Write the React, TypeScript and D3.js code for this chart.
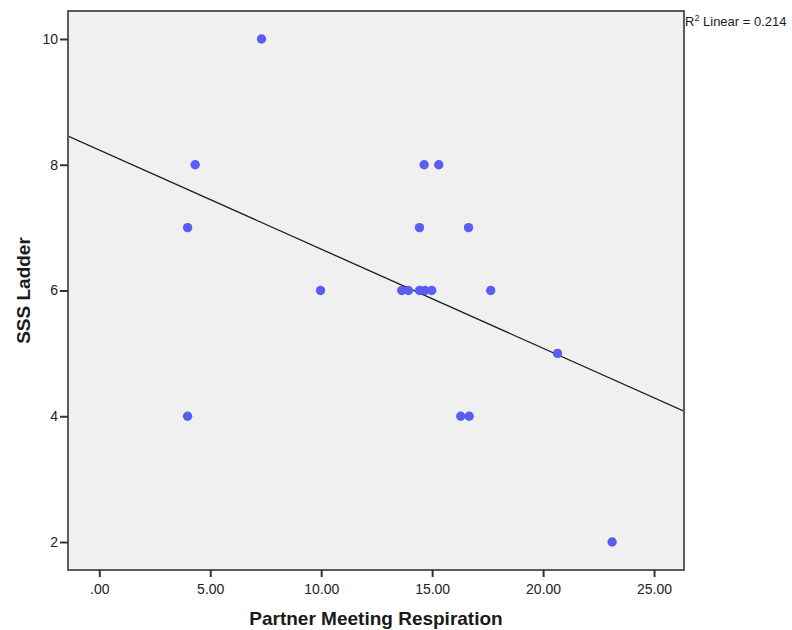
import { useEffect, useRef } from "react";
import * as d3 from "d3";

// values
const respiration = [
  7.31, 4.32, 14.64, 15.3, 3.98, 14.43, 16.64, 13.63, 13.93, 14.43, 14.68,
  14.98, 17.64, 9.97, 20.65, 3.98, 16.29, 16.67, 23.11,
];
const ladder = [10, 8, 8, 8, 7, 7, 7, 6, 6, 6, 6, 6, 6, 6, 5, 4, 4, 4, 2];

const xTicks = [0, 5, 10, 15, 20, 25];
const yTicks = [2, 4, 6, 8, 10];
const xDomain = [-1.41, 26.35];
const yDomain = [1.555, 10.445];

const xTitle = "Partner Meeting Respiration";
const yTitle = "SSS Ladder";

const width = 792;
const height = 630;
const margin = { top: 11, right: 108, bottom: 60, left: 68 };

const fitLine = (xs: number[], ys: number[]) => {
  const mx = d3.mean(xs) as number;
  const my = d3.mean(ys) as number;
  let sxy = 0;
  let sxx = 0;
  let syy = 0;
  xs.forEach((x, i) => {
    sxy += (x - mx) * (ys[i] - my);
    sxx += (x - mx) ** 2;
    syy += (ys[i] - my) ** 2;
  });
  const slope = sxy / sxx;
  return { slope, intercept: my - slope * mx, r2: (sxy * sxy) / (sxx * syy) };
};

const App = () => {
  const ref = useRef<SVGSVGElement>(null);

  useEffect(() => {
    const svg = d3.select(ref.current);
    svg.selectAll("*").remove();

    const x = d3
      .scaleLinear()
      .domain(xDomain)
      .range([margin.left, width - margin.right]);
    const y = d3
      .scaleLinear()
      .domain(yDomain)
      .range([height - margin.bottom, margin.top]);

    const font = "'Liberation Sans', Arial, sans-serif";

    svg
      .append("defs")
      .append("clipPath")
      .attr("id", "plot-clip")
      .append("rect")
      .attr("x", margin.left)
      .attr("y", margin.top)
      .attr("width", x.range()[1] - x.range()[0])
      .attr("height", y.range()[0] - y.range()[1]);

    svg
      .append("rect")
      .attr("x", margin.left)
      .attr("y", margin.top)
      .attr("width", x.range()[1] - x.range()[0])
      .attr("height", y.range()[0] - y.range()[1])
      .attr("fill", "#f0f0f0");

    // regression line
    const fit = fitLine(respiration, ladder);
    svg
      .append("line")
      .attr("clip-path", "url(#plot-clip)")
      .attr("x1", x(xDomain[0]))
      .attr("y1", y(fit.intercept + fit.slope * xDomain[0]))
      .attr("x2", x(xDomain[1]))
      .attr("y2", y(fit.intercept + fit.slope * xDomain[1]))
      .attr("stroke", "#1a1a1a")
      .attr("stroke-width", 1.3);

    svg
      .append("g")
      .selectAll("circle")
      .data(respiration.map((r, i) => ({ r, l: ladder[i] })))
      .join("circle")
      .attr("cx", (d) => x(d.r))
      .attr("cy", (d) => y(d.l))
      .attr("r", 4.7)
      .attr("fill", "#5a5cf2");

    // frame
    svg
      .append("rect")
      .attr("x", margin.left)
      .attr("y", margin.top)
      .attr("width", x.range()[1] - x.range()[0])
      .attr("height", y.range()[0] - y.range()[1])
      .attr("fill", "none")
      .attr("stroke", "#5c5c5c")
      .attr("stroke-width", 2);

    const fmt = (v: number) => d3.format(".2f")(v).replace(/^0\./, ".");

    const xAxis = svg
      .append("g")
      .attr("transform", `translate(0,${height - margin.bottom})`)
      .call(d3.axisBottom(x).tickValues(xTicks).tickFormat(fmt).tickSize(7).tickPadding(7));
    const yAxis = svg
      .append("g")
      .attr("transform", `translate(${margin.left},0)`)
      .call(d3.axisLeft(y).tickValues(yTicks).tickFormat(d3.format("d")).tickSize(8).tickPadding(2));

    [xAxis, yAxis].forEach((g) => {
      g.select(".domain").remove();
      g.selectAll(".tick line").attr("stroke", "#333").attr("stroke-width", 2);
      g.selectAll(".tick text")
        .attr("font-family", font)
        .attr("font-size", 14)
        .attr("fill", "#222");
    });

    svg
      .append("text")
      .attr("x", (x.range()[0] + x.range()[1]) / 2)
      .attr("y", 625)
      .attr("text-anchor", "middle")
      .attr("font-family", font)
      .attr("font-weight", "bold")
      .attr("font-size", 19)
      .attr("fill", "#1a1a1a")
      .text(xTitle);

    svg
      .append("text")
      .attr("transform", `translate(30,${(y.range()[0] + y.range()[1]) / 2}) rotate(-90)`)
      .attr("text-anchor", "middle")
      .attr("font-family", font)
      .attr("font-weight", "bold")
      .attr("font-size", 19)
      .attr("fill", "#1a1a1a")
      .text(yTitle);

    const r2 = svg
      .append("text")
      .attr("x", x.range()[1] + 1)
      .attr("y", 26)
      .attr("font-family", font)
      .attr("font-size", 13)
      .attr("fill", "#1a1a1a");
    r2.append("tspan").text("R");
    r2.append("tspan").attr("dy", -5).attr("font-size", 9).text("2");
    r2.append("tspan").attr("dy", 5).text(` Linear = ${d3.format(".3f")(fit.r2)}`);
  }, []);

  return (
    <svg
      ref={ref}
      width={width}
      height={height}
      style={{ position: "absolute", left: 0, top: 0, background: "#fff" }}
    />
  );
};

export default App;
